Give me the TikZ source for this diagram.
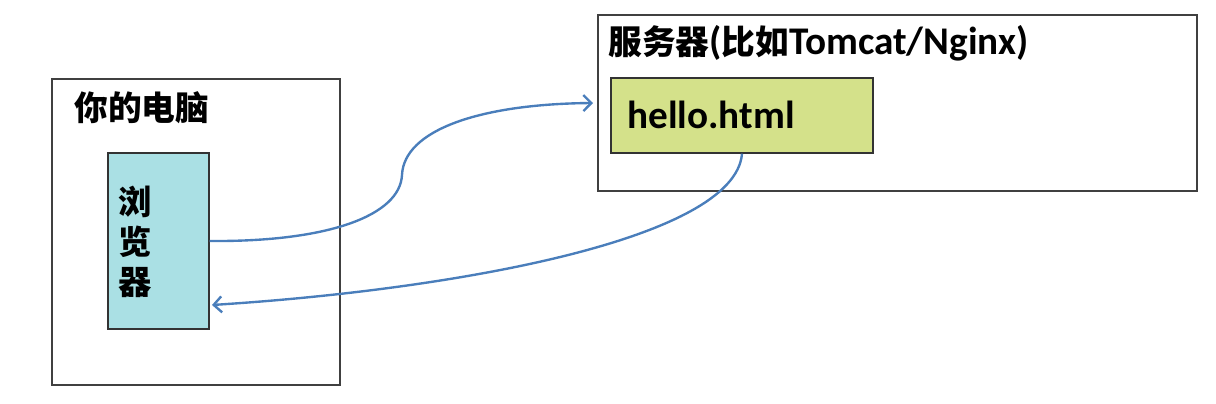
\documentclass[tikz,border=0pt]{standalone}
\usepackage{fontspec}
\setmainfont{Carlito}
\newfontfamily\cjk[Scale=0.86]{Noto Sans CJK SC}
\usepackage{tikz}
\usetikzlibrary{arrows.meta, positioning}

\definecolor{boxline}{RGB}{64,64,64}
\definecolor{browserfill}{RGB}{170,224,228}
\definecolor{filefill}{RGB}{212,225,138}
\definecolor{arrowblue}{RGB}{74,126,187}

\begin{document}
\begin{tikzpicture}[
  outerbox/.style={draw=boxline, line width=0.6pt, inner sep=0pt},
  innerbox/.style={draw=boxline!80!black, line width=0.8pt, inner sep=0pt},
  label/.style={inner sep=0pt, font=\fontsize{22.3}{26}\selectfont\bfseries},
  flow/.style={draw=arrowblue, line width=1.35pt, -{Straight Barb[length=1.6mm, width=3.2mm]}}
]
\useasboundingbox (0,0) rectangle (24.32,8.08);
% your computer
\node [outerbox, minimum width=5.76cm, minimum height=6.12cm] (pc) at (3.92,3.44) {};
\node [label, right] (pctitle) at (1.48,5.92) {\cjk 你的电脑};
\node [innerbox, fill=browserfill, minimum width=2.02cm, minimum height=3.52cm] (browser) at (3.17,3.26) {};
\node [label, align=center, font=\fontsize{22}{22.8}\selectfont\bfseries] (browsertext) at (2.7,3.24) {\cjk 浏\\\cjk 览\\\cjk 器};
% server
\node [outerbox, minimum width=11.98cm, minimum height=3.52cm] (server) at (17.95,6.02) {};
\node [label, right] (servertitle) at (12.16,7.22) {{\cjk 服务器}({\cjk 比如}Tomcat/Nginx)};
\node [innerbox, fill=filefill, minimum width=5.24cm, minimum height=1.5cm] (hello) at (14.84,5.77) {};
\node [label, right] (hellotext) at (12.54,5.78) {hello.html};
% request and response
\coordinate (req) at (11.86,6.02);
\coordinate (resp) at (4.24,1.98);
\draw [flow] (browser.east) .. controls (6.6,3.24) and (8.0,3.78) .. (8.04,4.58)
  .. controls (8.08,5.48) and (9.6,6.0) .. (req);
\draw [flow] (hello.south) .. controls (14.7,3.28) and (9.0,2.28) .. (resp);
\end{tikzpicture}
\end{document}
